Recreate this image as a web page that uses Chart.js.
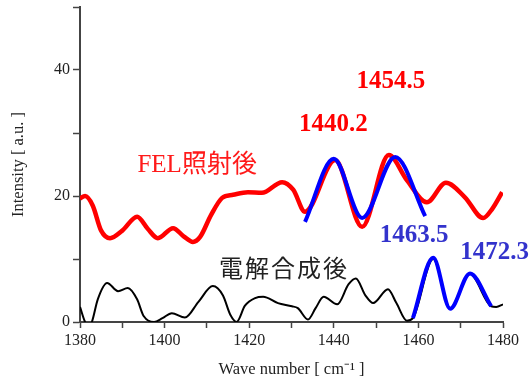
<!DOCTYPE html>
<html>
<head>
<meta charset="utf-8">
<script src="https://cdn.jsdelivr.net/npm/chart.js@4/dist/chart.umd.min.js"></script>
<style>
  html, body { margin: 0; padding: 0; background: #fff; }
  #wrap { width: 532px; height: 380px; position: relative; }
</style>
</head>
<body>
<div id="wrap"><canvas id="graficoEspectro"></canvas></div>
<script>
// ===== datos =====
const felX = [1380, 1381.2, 1383, 1385, 1387.1, 1390, 1393.5, 1396, 1398.4, 1402, 1404.5, 1406.7, 1408.4, 1411, 1413.6, 1416.2, 1419.7, 1423, 1427.8, 1430.4, 1433.2, 1440.3, 1446.7, 1453, 1457.3, 1462, 1466.5, 1471, 1475.3, 1477.5, 1479.8];
const felY = [19.6, 20, 18.5, 14.5, 13.3, 14.5, 16.7, 14.8, 13.3, 14.9, 13.6, 12.7, 13.5, 17, 19.7, 20.2, 20.6, 20.5, 22.2, 21, 17.5, 25.7, 15.1, 26.5, 22.5, 19, 22.1, 19.8, 16.5, 18, 20.6];

const felFitX = [1433.2, 1440, 1446.7, 1454.5, 1461.6];
const felFitY = [15.9, 25.9, 16.5, 26.2, 16.8];

const elecX = [1380, 1381.2, 1382, 1382.8, 1384.2, 1386.4, 1389, 1391.3, 1393.5, 1395, 1397.5, 1399.5, 1401.7, 1404.8, 1408, 1411.4, 1413.8, 1415.5, 1417, 1419, 1421.4, 1423.3, 1426.8, 1430.1, 1431.5, 1433.9, 1435.7, 1437.6, 1440.8, 1443.5, 1445.2, 1447.5, 1449.3, 1452.8, 1454.8, 1457.3, 1458.7, 1463.5, 1467.5, 1472.2, 1477.2, 1478.4, 1480];
const elecY = [2.4, 0, -0.6, 0, 3.6, 6.2, 4.9, 5.4, 3.6, 1.0, 0, 0.6, 1.4, 0.7, 3.2, 5.7, 4.2, 1.2, 0, 2.6, 3.8, 4.0, 3.0, 2.5, 2.2, 0.4, 2.2, 4.0, 2.8, 6.0, 6.9, 4.2, 3.0, 5.2, 3.0, 0.2, 0.6, 10, 2.2, 7.6, 2.5, 2.4, 2.8];

const elecFitX = [1458.7, 1463.5, 1467.5, 1472.2, 1477.2];
const elecFitY = [0.6, 10.2, 2.1, 7.7, 2.5];

// etiquetas sobre el gráfico
const etiquetas  = ['1454.5', '1440.2', 'FEL照射後', '電解合成後', '1463.5', '1472.3'];
const etiquetaX  = [1453.5, 1439.9, 1407.7, 1428.2, 1459, 1478];
const etiquetaY  = [38.1, 31.4, 24.9, 8.6, 13.8, 11.1];
const etiquetaCol = ['#ff0000', '#ff0000', '#ff1a1a', '#222222', '#3333cc', '#3333cc'];
const etiquetaFont = [
    'bold 25px "Liberation Serif"', 'bold 25px "Liberation Serif"',
    '25px "Liberation Serif", "Noto Sans CJK JP"', '24px "Noto Sans CJK JP"',
    'bold 25px "Liberation Serif"', 'bold 25px "Liberation Serif"'
];

function puntos(xs, ys) {
    return xs.map((x, i) => ({ x: x, y: ys[i] }));
}

// plugin para las etiquetas de texto
const textoPlugin = {
    id: 'textos',
    afterDatasetsDraw(chart) {
        const ctx = chart.ctx;
        const sx = chart.scales.x, sy = chart.scales.y;
        ctx.save();
        ctx.textAlign = 'center';
        ctx.textBaseline = 'middle';
        etiquetas.forEach((t, i) => {
            ctx.font = etiquetaFont[i];
            ctx.fillStyle = etiquetaCol[i];
            ctx.letterSpacing = (i === 3) ? '2px' : '0px';
            ctx.fillText(t, sx.getPixelForValue(etiquetaX[i]), sy.getPixelForValue(etiquetaY[i]));
        });
        ctx.restore();
    }
};

const ejeColor = '#444';

new Chart(document.getElementById('graficoEspectro'), {
    type: 'line',
    data: {
        datasets: [
            { data: puntos(felFitX, felFitY), borderColor: '#0000ff', borderWidth: 4, order: 0 },
            { data: puntos(elecFitX, elecFitY), borderColor: '#0000ff', borderWidth: 4, order: 0 },
            { data: puntos(felX, felY), borderColor: '#ff0000', borderWidth: 4.5, order: 1 },
            { data: puntos(elecX, elecY), borderColor: '#000000', borderWidth: 2, order: 2 }
        ]
    },
    options: {
        responsive: true,
        maintainAspectRatio: false,
        animation: false,
        layout: { padding: { left: 0, right: 29, top: 7, bottom: 0 } },
        elements: {
            point: { radius: 0 },
            line: { cubicInterpolationMode: 'monotone', fill: false }
        },
        plugins: {
            legend: { display: false },
            tooltip: { enabled: false }
        },
        scales: {
            x: {
                type: 'linear',
                min: 1380,
                max: 1480,
                afterFit: (s) => { s.height = 58; },
                border: { color: ejeColor, width: 2 },
                grid: { drawOnChartArea: false, tickLength: 6, tickColor: ejeColor, tickWidth: 1.5 },
                ticks: {
                    stepSize: 10,
                    autoSkip: false,
                    maxRotation: 0,
                    padding: 3,
                    color: '#222',
                    font: { family: 'Liberation Serif', size: 16 },
                    callback: (v) => (v % 20 === 0 ? v : '')
                },
                title: {
                    display: true,
                    text: 'Wave number [ cm⁻¹ ]',
                    color: '#222',
                    font: { family: 'Liberation Serif', size: 16.5 },
                    padding: { top: 5, bottom: 0 }
                }
            },
            y: {
                min: 0,
                max: 50,
                afterFit: (s) => { s.width = 80; s.paddingTop = 0; s.paddingBottom = 0; },
                border: { color: ejeColor, width: 2 },
                grid: { drawOnChartArea: false, tickLength: 7, tickColor: ejeColor, tickWidth: 1.5 },
                ticks: {
                    stepSize: 10,
                    padding: 3,
                    color: '#222',
                    font: { family: 'Liberation Serif', size: 16 },
                    callback: (v) => (v % 20 === 0 && v < 50 ? v : '')
                },
                title: {
                    display: true,
                    text: 'Intensity [ a.u. ]',
                    color: '#222',
                    font: { family: 'Liberation Serif', size: 16.5 },
                    padding: { top: 9, bottom: 0 }
                }
            }
        }
    },
    plugins: [textoPlugin]
});
</script>
</body>
</html>
